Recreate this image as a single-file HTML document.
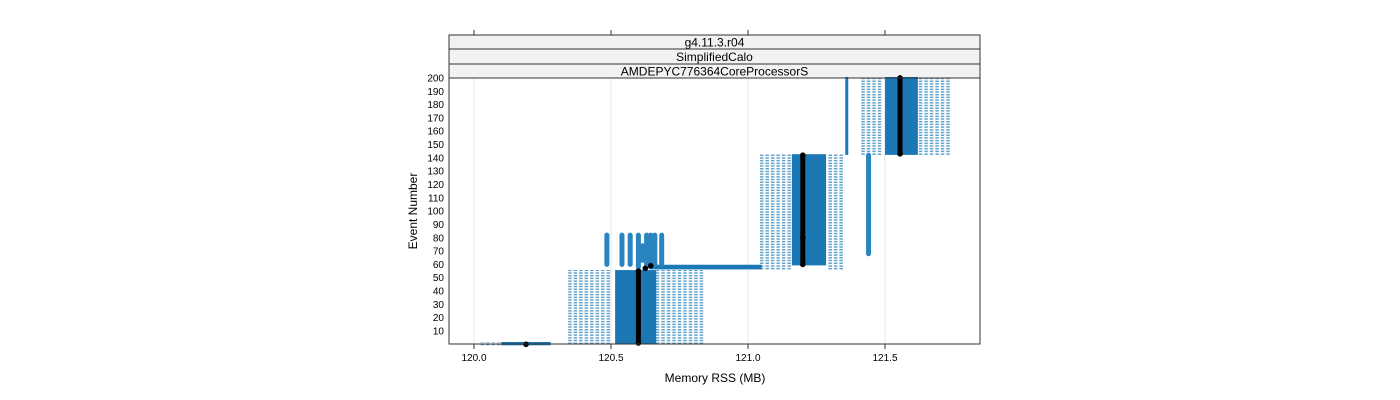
<!DOCTYPE html>
<html><head><meta charset="utf-8"><style>
body{margin:0;background:#fff}
svg{display:block;font-family:"Liberation Sans",sans-serif}
</style></head><body>
<svg id="c" width="1400" height="400">
<g>
<rect x="449" y="35" width="531" height="14" fill="#f2f2f2" stroke="#333"/>
<text x="714.5" y="46.5" font-size="12" text-anchor="middle">g4.11.3.r04</text>
<rect x="449" y="49" width="531" height="15" fill="#f2f2f2" stroke="#333"/>
<text x="714.5" y="61" font-size="12" text-anchor="middle">SimplifiedCalo</text>
<rect x="449" y="64" width="531" height="14" fill="#f2f2f2" stroke="#333"/>
<text x="714.5" y="75.5" font-size="12" text-anchor="middle">AMDEPYC776364CoreProcessorS</text>
</g>
<g id="grid"></g>
<g id="marks"></g>
<rect x="449" y="78" width="531" height="266" fill="none" stroke="#333"/>
<g id="axes"></g>
<text x="715" y="382" font-size="12" text-anchor="middle">Memory RSS (MB)</text>
<text transform="translate(417,211) rotate(-90)" font-size="12" text-anchor="middle">Event Number</text>
</svg>
<script>
const xTicks=[120.0,120.5,121.0,121.5];
const yTicks=[10,20,30,40,50,60,70,80,90,100,110,120,130,140,150,160,170,180,190,200];
// light (sparse) columns: x in MB, event range
const lightX=[120.03,120.05,120.07,120.09,120.35,120.37,120.39,120.41,120.43,120.45,120.47,120.49,120.67,120.69,120.71,120.73,120.75,120.77,120.79,120.81,120.83,
121.05,121.07,121.09,121.11,121.13,121.15,121.30,121.32,121.34,121.42,121.44,121.46,121.48,121.63,121.65,121.67,121.69,121.71,121.73];
const lightStart=[0,0,0,0,1,1,1,1,1,1,1,1,1,1,1,1,1,1,1,1,1,
57,57,57,57,57,57,57,57,57,143,143,143,143,143,143,143,143,143,143];
const lightEnd=[1,1,1,1,55,55,55,55,55,55,55,55,55,55,55,55,55,55,55,55,55,
142,142,142,142,142,142,142,142,142,200,200,200,200,200,200,200,200,200,200];
// dense blocks: x range in MB, event range
const denseX0=[120.10,120.515,120.64,121.16,121.355,121.50];
const denseX1=[120.28,120.665,121.05,121.285,121.365,121.62];
const denseS=[0,1,57,60,143,143];
const denseE=[1,55,59,142,200,200];
// spikes (vertical runs)
const spikeX=[120.485,120.54,120.57,120.6,120.63,120.645,120.66,120.685,120.615,121.44];
const spikeS=[60,60,60,58,58,60,60,60,63,68];
const spikeE=[82,82,82,82,82,82,82,82,74,142];
// median path
const medX=[120.19,120.6,120.6,120.625,120.645,121.2,121.2,121.2,121.555,121.555];
const medY=[0,1,55,57,59,60,80,142,143,200];
const xs=v=>474+(v-120)*274;
const ys=v=>344.3-v*1.3316;
const NS="http://www.w3.org/2000/svg";
function mk(t,a,p){const e=document.createElementNS(NS,t);for(const k in a)e.setAttribute(k,a[k]);p.appendChild(e);return e;}
const grid=document.getElementById('grid'),marks=document.getElementById('marks'),axes=document.getElementById('axes');
xTicks.forEach(t=>{
 const g=mk('line',{x1:xs(t),x2:xs(t),y1:78,y2:344,stroke:'#e6e6e6'},grid);
 
 
 const a=mk('line',{x1:xs(t),x2:xs(t),y1:344,y2:349,stroke:'#333'},axes);
 
 
 const b=mk('line',{x1:xs(t),x2:xs(t),y1:30,y2:35,stroke:'#333'},axes);
 
 
 const l=mk('text',{x:xs(t),y:361,'font-size':10,'text-anchor':'middle'},axes);
 l.textContent=t.toFixed(1);
 
 
});
yTicks.forEach(t=>{
 const l=mk('text',{x:444,y:ys(t)+3.5,'font-size':10,'text-anchor':'end'},axes);
 l.textContent=t;
 
 
});
lightX.forEach((x,i)=>{
 const e=mk('line',{x1:xs(x),x2:xs(x),y1:ys(lightStart[i])+1,y2:ys(lightEnd[i])-1,stroke:'#2f86c0','stroke-width':3.5,'stroke-dasharray':'1.5,1.2','opacity':0.75},marks);
 
 
});
denseX0.forEach((x,i)=>{
 const y0=ys(denseE[i])-1,y1=ys(denseS[i])+1;
 const e=mk('rect',{x:xs(x),y:y0,width:Math.max(3,xs(denseX1[i])-xs(x)),height:y1-y0,fill:'#1b78b4'},marks);
 
 
});
spikeX.forEach((x,i)=>{
 const e=mk('line',{x1:xs(x),x2:xs(x),y1:ys(spikeS[i]),y2:ys(spikeE[i]),stroke:'#2a84bf','stroke-width':5,'stroke-linecap':'round'},marks);
 
 
});
for(let i=0;i+1<medX.length;i++){
 if(medX[i]===medX[i+1]){
  const e=mk('line',{x1:xs(medX[i]),x2:xs(medX[i]),y1:ys(medY[i]),y2:ys(medY[i+1]),stroke:'#000','stroke-width':5,'stroke-linecap':'round'},marks);
  
  
 }
}
medX.forEach((x,i)=>{
 const e=mk('circle',{cx:xs(x),cy:ys(medY[i]),r:2.8,fill:'#000'},marks);
 
 
});
</script>
</body></html>
